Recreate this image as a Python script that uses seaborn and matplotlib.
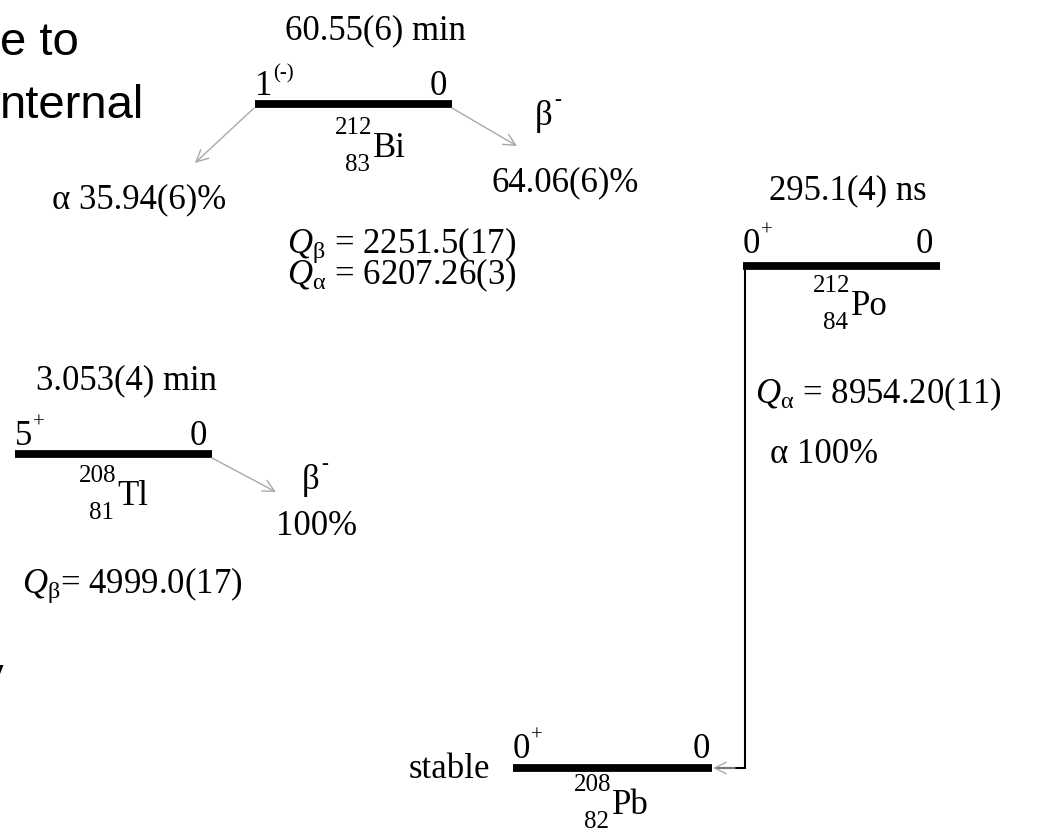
import matplotlib
matplotlib.use("Agg")
import matplotlib.pyplot as plt
import seaborn as sns
import pandas as pd

# ---------------- data ----------------
nuclide_symbols = ["Bi", "Po", "Tl", "Pb"]
mass_numbers = ["212", "212", "208", "208"]
atomic_numbers = ["83", "84", "81", "82"]
spins = ["1", "0", "5", "0"]
parities = ["(-)", "+", "+", "+"]
level_energies = ["0", "0", "0", "0"]
half_lives = ["60.55(6) min", "295.1(4) ns", "3.053(4) min", "stable"]

q_types = ["β", "α", "α", "β"]
q_values = ["2251.5(17)", "6207.26(3)", "8954.20(11)", "4999.0(17)"]
q_separators = [" = ", " = ", " = ", "= "]
q_groups = [[0, 1], [2], [3]]  # Q-values printed together in one block

branch_labels = ["α 35.94(6)%", "64.06(6)%", "α 100%", "100%"]
beta_label = "β"
beta_charge = "-"

side_texts = ["e to", "nternal", "y"]

# ---------------- layout (pixel positions on a 1051x833 canvas) ----------------
W, H = 1051, 833
lvl_x0 = {"Bi": 255, "Po": 743, "Tl": 15, "Pb": 513}
lvl_x1 = {"Bi": 452, "Po": 940, "Tl": 212, "Pb": 712}
lvl_y = {"Bi": 104, "Po": 266, "Tl": 454, "Pb": 768}
spin_bl = {"Bi": 95, "Po": 253, "Tl": 445, "Pb": 758}
energy_right = {"Bi": 447, "Po": 933, "Tl": 207, "Pb": 710}
sym_pos = {"Bi": (373, 157), "Po": (851, 315), "Tl": (117, 505), "Pb": (612, 814)}
halflife_pos = {"Bi": (375, 39, "center"), "Po": (848, 199, "center"),
                "Tl": (126, 389, "center"), "Pb": (490, 778, "right")}
q_group_pos = [(287, 284), (755, 403), (22, 593)]  # baseline of last line
branch_pos = [(139, 208, "center"), (565, 191, "center"), (770, 463, "left"), (317, 535, "center")]
beta_pos = [(535, 125), (302, 489)]

SERIF = "Liberation Serif"
MAIN = 25
SMALL = 18
SUP = 15

sns.set_theme(style="white")
plt.rcParams["font.family"] = [SERIF, "DejaVu Serif"]
plt.rcParams["mathtext.fontset"] = "custom"
plt.rcParams["mathtext.rm"] = SERIF
plt.rcParams["mathtext.it"] = SERIF + ":italic"
plt.rcParams["mathtext.bf"] = SERIF + ":bold"
plt.rcParams["text.color"] = "black"

fig = plt.figure(figsize=(W / 100, H / 100), dpi=100)
ax = fig.add_axes([0, 0, 1, 1])

# level bars through seaborn
rows = []
for n in nuclide_symbols:
    rows.append({"x": lvl_x0[n], "y": lvl_y[n], "level": n})
    rows.append({"x": lvl_x1[n], "y": lvl_y[n], "level": n})
df = pd.DataFrame(rows)
sns.lineplot(data=df, x="x", y="y", units="level", estimator=None, color="black",
             linewidth=5.6, solid_capstyle="butt", ax=ax, legend=False)

ax.set_xlim(0, W)
ax.set_ylim(H, 0)
ax.axis("off")


def txt(x, y, s, size=MAIN, ha="left", va="baseline", **kw):
    ax.text(x, y, s, fontsize=size, ha=ha, va=va, color="black", **kw)


for i, n in enumerate(nuclide_symbols):
    # spin / parity
    sx = lvl_x0[n]
    txt(sx, spin_bl[n], spins[i])
    txt(sx + 18, spin_bl[n] - 17, parities[i], size=SUP)
    # level energy
    txt(energy_right[n], spin_bl[n], level_energies[i], ha="right")
    # nuclide label
    x, y = sym_pos[n]
    txt(x, y, nuclide_symbols[i])
    txt(x - 1, y - 23, mass_numbers[i], size=SMALL, ha="right")
    txt(x - 3, y + 14, atomic_numbers[i], size=SMALL, ha="right")
    # half-life
    hx, hy, hha = halflife_pos[n]
    txt(hx, hy, half_lives[i], ha=hha)

for g, idx in enumerate(q_groups):
    lines = [r"$\mathit{Q}_{\mathrm{" + q_types[i] + r"}}$" + q_separators[i] + q_values[i]
             for i in idx]
    x, y = q_group_pos[g]
    txt(x, y, "\n".join(lines), linespacing=0.7)

for i, lab in enumerate(branch_labels):
    x, y, ha = branch_pos[i]
    txt(x, y, lab, ha=ha)

for x, y in beta_pos:
    txt(x, y, beta_label)
    txt(x + 19, y - 20, beta_charge, size=SUP)

# decay arrows
grey = "#a9a9a9"
arrow_kw = dict(arrowstyle="->,head_length=0.7,head_width=0.35", color=grey, lw=1.0,
                shrinkA=0, shrinkB=0)
ax.annotate("", xy=(195, 163), xytext=(254, 108), arrowprops=arrow_kw)
ax.annotate("", xy=(517, 146), xytext=(452, 108), arrowprops=arrow_kw)
ax.annotate("", xy=(276, 492), xytext=(212, 458), arrowprops=arrow_kw)
ax.annotate("", xy=(713, 768), xytext=(735, 768), arrowprops=arrow_kw)
ax.plot([745, 745, 716], [lvl_y["Po"], lvl_y["Pb"], lvl_y["Pb"]], color="black", lw=1.5,
        solid_joinstyle="miter")

# partially visible slide text on the left
sans = dict(fontsize=34, family="Liberation Sans", ha="left", va="baseline", color="black")
ax.text(0, 55, side_texts[0], **sans)
ax.text(0, 118, side_texts[1], **sans)
ax.text(-20, 690, side_texts[2], **sans)

fig.savefig("out.png", dpi=100)
